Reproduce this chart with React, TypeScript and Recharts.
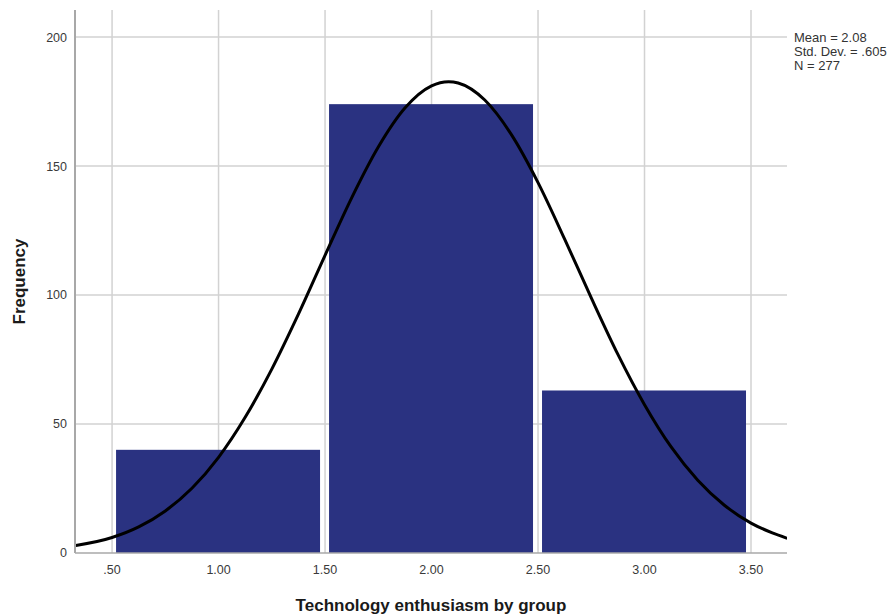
import { ComposedChart, Line, XAxis, YAxis, ReferenceLine, ReferenceArea, Label } from "recharts";

// histogram bins (Technology enthusiasm by group)
const binStart = [0.5, 1.5, 2.5];
const binEnd = [1.5, 2.5, 3.5];
const binCount = [40, 174, 63];

// fitted normal curve
const curveX = [0.33, 0.5, 0.625, 0.75, 0.875, 1.0, 1.125, 1.25, 1.375, 1.5, 1.625, 1.75, 1.875, 2.0, 2.08, 2.125, 2.25, 2.375, 2.5, 2.625, 2.75, 2.875, 3.0, 3.125, 3.25, 3.375, 3.5, 3.6, 3.67];
const curveY = [2.9, 6.0, 10.1, 16.3, 25.1, 37.1, 52.6, 71.3, 92.6, 115.4, 137.7, 157.4, 172.5, 181.1, 182.7, 182.2, 175.6, 162.2, 143.6, 121.7, 98.9, 77.0, 57.5, 41.1, 28.2, 18.5, 11.6, 7.8, 5.7];

const xTicks = [0.5, 1.0, 1.5, 2.0, 2.5, 3.0, 3.5];
const yTicks = [0, 50, 100, 150, 200];

const statLines = ["Mean = 2.08", "Std. Dev. = .605", "N = 277"];

const curveData = curveX.map((x, i) => ({ x, y: curveY[i] }));

const fmtX = (v: number) => (v < 1 ? v.toFixed(2).replace(/^0/, "") : v.toFixed(2));

const BinShape = (props: any) => {
  const { x, y, width, height } = props;
  return <rect x={x + 4} y={y} width={width - 9} height={height} fill="#2a3281" />;
};

const font = "Liberation Sans, Arial, sans-serif";
const gridColor = "#d2d2d2";

const App = () => {
  return (
    <div style={{ position: "relative", width: 895, height: 616, background: "#fff" }}>
      <style>{`body{margin:0}`}</style>
      <ComposedChart
        width={895}
        height={616}
        data={curveData}
        margin={{ top: 10, right: 108, bottom: 0, left: 0 }}
      >
        <XAxis
          type="number"
          dataKey="x"
          domain={[0.326, 3.669]}
          ticks={xTicks}
          tickFormatter={fmtX}
          allowDataOverflow
          height={63}
          tickLine={false}
          tickMargin={6}
          stroke="#a8a8a8"
          strokeWidth={1.5}
          tick={{ fill: "#3a3a3a", fontSize: 12.5, fontFamily: font }}
        >
          <Label
            value="Technology enthusiasm by group"
            position="center"
            dy={20}
            style={{ fill: "#1a1a1a", fontSize: 17, fontWeight: "bold", fontFamily: font }}
          />
        </XAxis>
        <YAxis
          type="number"
          domain={[0, 210.5]}
          ticks={yTicks}
          allowDataOverflow
          width={75}
          tickLine={false}
          stroke="#a8a8a8"
          strokeWidth={2}
          tick={{ fill: "#3a3a3a", fontSize: 12.5, fontFamily: font }}
        >
          <Label
            value="Frequency"
            angle={-90}
            position="center"
            dx={-19}
            style={{ fill: "#1a1a1a", fontSize: 17, fontWeight: "bold", fontFamily: font }}
          />
        </YAxis>
        {/* grid lines only at the tick values, kept under the bins */}
        {xTicks.map((t) => (
          <ReferenceLine key={"vx" + t} x={t} stroke={gridColor} strokeWidth={1.5} zIndex={-100} />
        ))}
        {yTicks.slice(1).map((t) => (
          <ReferenceLine key={"hy" + t} y={t} stroke={gridColor} strokeWidth={1.5} zIndex={-100} />
        ))}
        {binCount.map((c, i) => (
          <ReferenceArea
            key={i}
            x1={binStart[i]}
            x2={binEnd[i]}
            y1={0}
            y2={c}
            shape={<BinShape />}
            ifOverflow="visible"
            zIndex={100}
          />
        ))}
        <Line
          type="monotone"
          dataKey="y"
          stroke="#000"
          strokeWidth={3}
          dot={false}
          isAnimationActive={false}
        />
      </ComposedChart>
      <div
        style={{
          position: "absolute",
          left: 794,
          top: 31,
          fontFamily: font,
          fontSize: 13,
          lineHeight: "14px",
          color: "#333",
          whiteSpace: "nowrap",
        }}
      >
        {statLines.map((s) => (
          <div key={s}>{s}</div>
        ))}
      </div>
    </div>
  );
};

export default App;
